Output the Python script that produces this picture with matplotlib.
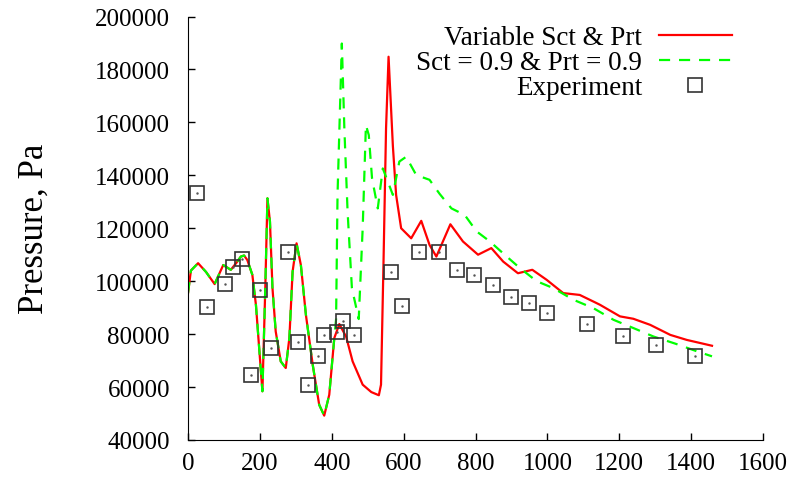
import matplotlib.pyplot as plt

plt.rcParams['font.family'] = ['Liberation Serif', 'DejaVu Serif']

# 공통 구간 (두 계산이 겹치는 부분)
common_x = [0, 8, 28, 50, 74, 98, 119, 135, 147, 156, 165, 179, 189, 198, 207, 215, 221, 228,
            235, 244, 258, 272, 282, 291, 302, 314, 328, 347, 365, 379, 393, 407]
common_y = [95500, 104000, 106800, 103500, 98900, 106100, 104300, 107000, 109300, 109700, 108000,
            102400, 91000, 74700, 58400, 97400, 131300, 122500, 97400, 81000, 69700, 67200, 78500,
            103600, 114300, 106100, 87300, 68400, 53300, 49200, 57100, 78500]

# Variable Sct & Prt
var_x = [421, 440, 458, 486, 510, 531, 537, 544, 551, 558, 570, 579, 593, 621, 649, 672, 691,
         730, 765, 807, 844, 877, 918, 958, 998, 1044, 1090, 1128, 1146, 1202, 1239, 1286,
         1342, 1388, 1458]
var_y = [83800, 79000, 69700, 60900, 58100, 56900, 60900, 107400, 157700, 184800, 151100, 132600,
         120000, 116200, 122800, 113700, 109300, 121500, 115000, 110000, 112500, 107400, 103000,
         104300, 100500, 95500, 94800, 92300, 91100, 86700, 85800, 83500, 79700, 77800, 75600]

# Sct = 0.9 & Prt = 0.9
const_x = [412, 416, 428, 435, 444, 456, 475, 486, 495, 503, 512, 528, 542, 556, 570, 588, 607,
           635, 672, 700, 733, 770, 803, 840, 881, 923, 970, 1016, 1072, 1128, 1184, 1239,
           1295, 1358, 1416, 1458]
const_y = [85700, 132600, 189800, 157700, 126300, 97400, 85700, 120000, 159000, 155200, 138900,
           127500, 142600, 137600, 132600, 145200, 147000, 140100, 138300, 133000, 127500, 125000,
           118800, 115000, 110000, 105000, 100000, 97400, 93000, 89800, 85400, 82300, 79100,
           76300, 73500, 71600]

# 실험값
exp_x = [26, 52, 104, 126, 149, 175, 201, 231, 279, 305, 335, 361, 379, 414, 431, 461, 566, 596,
         644, 697, 749, 797, 849, 899, 950, 1000, 1111, 1211, 1301, 1412]
exp_y = [133200, 90100, 98750, 105400, 108300, 64600, 96600, 74800, 111200, 77000, 60900, 71600,
         79700, 80750, 84800, 79700, 103400, 90450, 111200, 111200, 104300, 102400, 98600, 94200,
         91700, 88000, 83900, 79400, 76000, 71600]

fig = plt.figure(figsize=(7.95, 4.81), dpi=100)
ax = fig.add_axes([0.2365, 0.0832, 0.7233, 0.8804])

ax.plot(common_x + var_x, common_y + var_y, color='#ff0000', lw=1.6,
        label='Variable Sct & Prt')
ax.plot(common_x + const_x, common_y + const_y, color='#00ff00', lw=1.6,
        dashes=(5, 4), label='Sct = 0.9 & Prt = 0.9')
ax.plot(exp_x, exp_y, ls='none', marker='s', ms=10, mfc='none', mec='#333333', mew=1.2,
        label='Experiment')
ax.plot(exp_x, exp_y, ls='none', marker='.', ms=1.5, color='#555555')

ax.set_xlim(0, 1600)
ax.set_ylim(40000, 200000)
ax.set_xticks(range(0, 1601, 200))
ax.set_yticks(range(40000, 200001, 20000))
ax.spines['top'].set_visible(False)
ax.spines['right'].set_visible(False)
ax.tick_params(direction='in', length=5, labelsize=18, width=1)
ax.tick_params(axis='y', pad=13)
ax.tick_params(axis='x', pad=9)
ax.set_ylabel('Pressure, Pa', fontsize=25, labelpad=32)

ax.legend(loc='upper right', bbox_to_anchor=(0.951, 0.996), bbox_transform=fig.transFigure,
          frameon=False, markerfirst=False, fontsize=19.5, handlelength=2.7,
          labelspacing=0.0, handletextpad=0.6)

fig.savefig('out.png', dpi=100)
